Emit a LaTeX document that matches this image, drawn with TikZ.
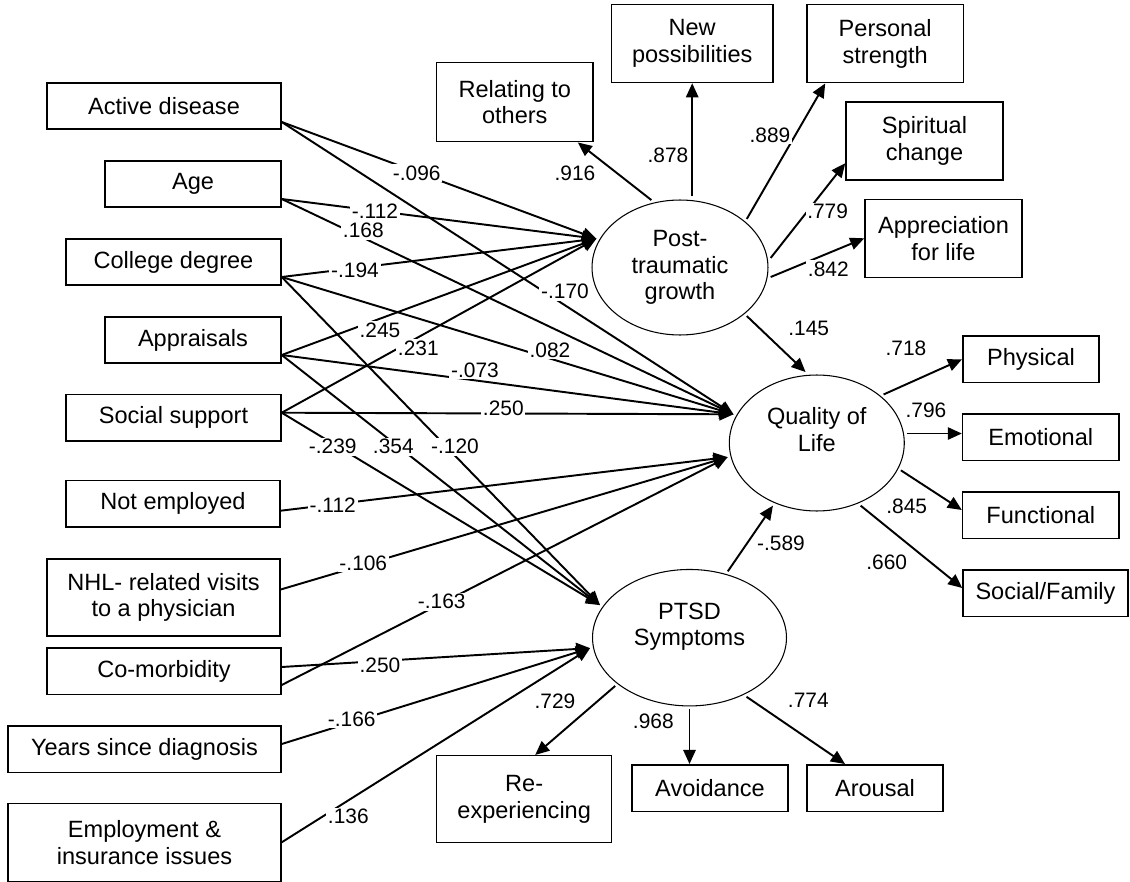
\documentclass[tikz,border=0pt]{standalone}
\usepackage{fontspec}
\setmainfont{Liberation Sans}
\usetikzlibrary{shapes.geometric,arrows.meta,calc}

\begin{document}
\begin{tikzpicture}[
            x = .02cm, y = -.02cm,
            every node/.style={font=\fontsize{13.4}{15.2}\selectfont, align=center, inner sep=0pt},
            box/.style={draw, line width=.85pt, minimum height=.93cm},
            tall/.style={minimum height=1.56cm},
            ell/.style={draw, ellipse, line width=.6pt, outer sep=2pt},
            arr/.style={line width=1.1pt, -{Triangle[length=8pt, width=7pt]}},
            num/.style={font=\fontsize{11.9}{13}\selectfont, fill=white, inner sep=1pt},
            ]
        \useasboundingbox (0, 0) rectangle (1130, 882);

        \node[box, minimum width=4.68cm] (ad) at (164, 106) {Active disease};
        \node[box, minimum width=3.52cm] (age) at (193, 184) {Age};
        \node[box, minimum width=4.30cm] (cd) at (173.5, 262) {College degree};
        \node[box, minimum width=3.52cm] (ap) at (193, 340) {Appraisals};
        \node[box, minimum width=4.30cm] (ss) at (173.5, 417.7) {Social support};
        \node[box, minimum width=4.28cm] (ne) at (173, 503.7) {Not employed};
        \node[box, tall, minimum width=4.66cm, minimum height=1.54cm] (nhl) at (163.5, 597.5) {NHL- related visits\\to a physician};
        \node[box, minimum width=4.68cm] (cm) at (164, 671) {Co-morbidity};
        \node[box, minimum width=5.46cm] (yd) at (144.5, 749) {Years since diagnosis};
        \node[box, tall, minimum width=5.46cm] (ei) at (144.5, 842.3) {Employment \&\\insurance issues};

        \node[box, tall, minimum width=3.13cm, minimum height=1.58cm] (ro) at (514.8, 102.2) {Relating to\\others};
        \node[box, tall, minimum width=3.23cm] (np) at (692.2, 43.5) {New\\possibilities};
        \node[box, tall, minimum width=3.13cm] (ps) at (885.2, 43.7) {Personal\\strength};
        \node[box, tall, minimum width=3.14cm] (sc) at (924.5, 141.2) {Spiritual\\change};
        \node[box, tall, minimum width=3.14cm] (apl) at (943.5, 238.3) {Appreciation\\for life};

        \node[box, minimum width=2.73cm] (phys) at (1031, 359.3) {Physical};
        \node[box, minimum width=3.13cm] (emo) at (1040.8, 437.3) {Emotional};
        \node[box, minimum width=3.13cm] (func) at (1040.8, 515) {Functional};
        \node[box, minimum width=3.30cm] (sf) at (1045.5, 593) {Social/Family};

        \node[box, minimum width=3.50cm, minimum height=1.74cm] (re) at (524.2, 799.2) {Re-\\experiencing};
        \node[box, minimum width=3.13cm] (av) at (710, 788) {Avoidance};
        \node[box, minimum width=2.73cm] (ar) at (875, 788) {Arousal};

        \node[ell, minimum width=3.52cm, minimum height=2.70cm] (ptg) at (680, 267.5) {Post-\\traumatic\\growth};
        \node[ell, minimum width=3.50cm, minimum height=2.72cm] (qol) at (816.8, 443) {Quality of\\Life\\\mbox{}};
        \node[ell, minimum width=3.88cm, minimum height=2.73cm] (ptsd) at (689.5, 637.7) {PTSD\\Symptoms\\\mbox{}};

        \draw[arr] ($(ad.east)+(0, 16)$) -- (ptg.161);
        \draw[arr] ($(ad.east)+(0, 16)$) -- (qol.161);
        \draw[arr] ($(age.east)+(0, 15)$) -- (ptg.161);
        \draw[arr] ($(age.east)+(0, 15)$) -- (qol.161);
        \draw[arr] ($(cd.east)+(0, 15)$) -- (ptg.161);
        \draw[arr] ($(cd.east)+(0, 15)$) -- (qol.161);
        \draw[arr] ($(cd.east)+(0, 15)$) -- (ptsd.160);
        \draw[arr] ($(ap.east)+(0, 15)$) -- (ptg.161);
        \draw[arr] ($(ap.east)+(0, 15)$) -- (qol.161);
        \draw[arr] ($(ap.east)+(0, 15)$) -- (ptsd.160);
        \draw[arr] ($(ss.east)+(0, -5)$) -- (ptg.161);
        \draw[arr] ($(ss.east)+(0, -5)$) -- (qol.161);
        \draw[arr] ($(ss.east)+(0, -5)$) -- (ptsd.160);
        \draw[arr] ($(ne.east)+(0, 7)$) -- (qol.189);
        \draw[arr] ($(nhl.east)+(0, -8)$) -- (qol.189);
        \draw[arr] ($(cm.east)+(0, 14)$) -- (qol.189);
        \draw[arr] ($(cm.east)+(0, -4)$) -- (ptsd.186);
        \draw[arr] ($(yd.east)+(0, -5)$) -- (ptsd.186);
        \draw[arr] (ei.east) -- (ptsd.186);

        \draw[arr] (ptg.113) -- ($(ro.south east)+(-16, 0)$);
        \draw[arr] (np.south |- ptg.north) -- (np.south);
        \draw[arr] (ptg.36) -- ($(ps.south west)+(19, 0)$);
        \draw[arr] (ptg.6) -- ($(sc.west)+(0, 22)$);
        \draw[arr] (ptg.-6) -- (apl.west);
        \draw[arr] (ptg.-36) -- (qol.99);
        \draw[arr] (qol.36) -- (phys.west);
        \draw[arr] (qol.6) -- (qol.6 -| emo.west);
        \draw[arr] (qol.-18) -- ($(func.west)+(0, -5)$);
        \draw[arr] (qol.-55) -- ($(sf.west)+(0, -5)$);
        \draw[arr] (ptsd.60) -- (qol.-125);
        \draw[arr] (ptsd.-147) -- ($(re.north)+(11, 0)$);
        \draw[arr] (ptsd.south) -- (ptsd.south |- av.north);
        \draw[arr] (ptsd.-46) -- ($(ar.north)+(-30, 0)$);

        \node[num] (w1) at (416.7, 173.3) {-.096};
        \node[num] (w2) at (375, 211.7) {-.112};
        \node[num] (w3) at (363.3, 230.7) {.168};
        \node[num] (w4) at (355, 270) {-.194};
        \node[num] (w5) at (565, 291.7) {-.170};
        \node[num] (w6) at (380, 330) {.245};
        \node[num] (w7) at (418.3, 348.3) {.231};
        \node[num] (w8) at (550, 350) {.082};
        \node[num] (w9) at (475, 370) {-.073};
        \node[num] (w10) at (503.3, 408.3) {.250};
        \node[num] (w11) at (332.7, 446.7) {-.239};
        \node[num] (w12) at (393.3, 446.7) {.354};
        \node[num] (w13) at (455, 446.7) {-.120};
        \node[num] (w14) at (332.7, 505) {-.112};
        \node[num] (w15) at (363.3, 563.3) {-.106};
        \node[num] (w16) at (441.7, 601.7) {-.163};
        \node[num] (w17) at (380, 665) {.250};
        \node[num] (w18) at (351.7, 719.3) {-.166};
        \node[num] (w19) at (348.3, 816.7) {.136};

        \node[num] (w20) at (575, 173.3) {.916};
        \node[num] (w21) at (668, 155) {.878};
        \node[num] (w22) at (770, 135) {.889};
        \node[num] (w23) at (827.6, 211.7) {.779};
        \node[num] (w24) at (828.3, 269.2) {.842};
        \node[num] (w25) at (808.7, 328.8) {.145};
        \node[num] (w26) at (906, 348.3) {.718};
        \node[num] (w27) at (926, 410) {.796};
        \node[num] (w28) at (906.7, 506.7) {.845};
        \node[num] (w29) at (886.7, 562.7) {.660};
        \node[num] (w30) at (781, 543.3) {-.589};
        \node[num] (w31) at (555, 701.7) {.729};
        \node[num] (w32) at (653.3, 721.7) {.968};
        \node[num] (w33) at (808.3, 700) {.774};
    \end{tikzpicture}
\end{document}
